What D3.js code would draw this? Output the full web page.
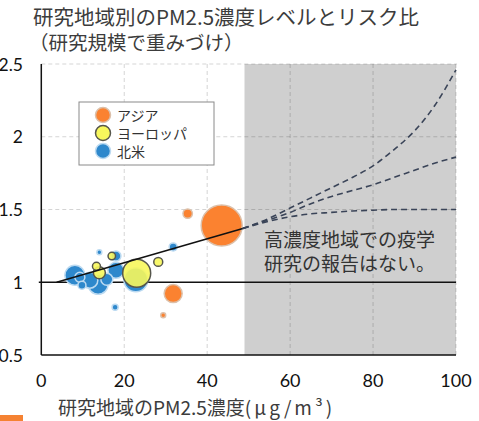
<!DOCTYPE html>
<html>
<head>
<meta charset="utf-8">
<script src="https://cdn.jsdelivr.net/npm/d3@7"></script>
<style>
  html, body { margin: 0; padding: 0; background: #fff; }
  svg { display: block; }
</style>
</head>
<body>
<svg id="chart" width="479" height="421"></svg>
<script>
// Study regions and their bubbles: PM2.5 level, risk ratio, study weight
const regions = ["アジア", "ヨーロッパ", "北米"];
const regionColors = { "アジア": "#FB8230", "ヨーロッパ": "#F7F75C", "北米": "#2E88CC" };
const regionStrokes = { "アジア": "#DCC0AA", "ヨーロッパ": "#56564C", "北米": "#BCDAF1" };

const studyRegion = [
  "北米","北米","北米","北米","北米","北米","北米","北米","北米","北米","北米","北米",
  "ヨーロッパ","ヨーロッパ","ヨーロッパ","ヨーロッパ","ヨーロッパ",
  "アジア","アジア","アジア","アジア"
];
const studyPm25 = [
  22.8, 8.1, 9.3, 9.8, 11.7, 13.7, 15.8, 18.0, 18.0, 14.0, 17.8, 31.8,
  23.0, 28.2, 17.0, 13.3, 14.0,
  43.5, 35.3, 31.8, 29.4
];
const studyRisk = [
  1.017, 1.048, 1.034, 0.98, 1.014, 0.986, 1.02, 1.082, 1.18, 1.206, 0.828, 1.243,
  1.062, 1.14, 1.18, 1.11, 1.065,
  1.39, 1.472, 0.922, 0.773
];
const studyWeight = [
  144, 100, 25, 16, 64, 100, 36, 64, 25, 6, 9, 16,
  196, 20, 14, 16, 36,
  420, 22, 81, 6
];

// Pooled trend within observed range
const trendX = [3.7, 48.6];
const trendY = [1.0, 1.37];

// Extrapolated curves beyond observed range
const extX = [48.6, 55, 60, 65, 70, 75, 80, 85, 90, 95, 100];
const extHigh = [1.37, 1.44, 1.51, 1.58, 1.65, 1.72, 1.80, 1.91, 2.04, 2.22, 2.46];
const extMid  = [1.37, 1.43, 1.48, 1.54, 1.59, 1.63, 1.67, 1.72, 1.77, 1.82, 1.86];
const extLow  = [1.37, 1.42, 1.45, 1.47, 1.48, 1.49, 1.495, 1.50, 1.50, 1.50, 1.50];

const unobservedFrom = 49;

const xTicks = [0, 20, 40, 60, 80, 100];
const yTicks = [0.5, 1, 1.5, 2, 2.5];

const svg = d3.select("#chart");
const x = d3.scaleLinear().domain([0, 100]).range([41.3, 456]);
const y = d3.scaleLinear().domain([0.5, 2.5]).range([355, 64]);
const r = d3.scaleSqrt().domain([0, 420]).range([0, 20.5]);

const cjk = "'Noto Sans CJK JP', 'Noto Sans', sans-serif";
const num = "Lato, 'Open Sans', sans-serif";

// Title
svg.append("text").attr("x", 33).attr("y", 25)
  .attr("font-family", cjk).attr("font-size", 20.5).attr("fill", "#3c3c3c")
  .text("研究地域別のPM2.5濃度レベルとリスク比");
svg.append("text").attr("x", 29).attr("y", 50)
  .attr("font-family", cjk).attr("font-size", 19.5).attr("fill", "#3c3c3c")
  .text("（研究規模で重みづけ）");

// Region with no high-concentration studies
svg.append("rect")
  .attr("x", x(unobservedFrom)).attr("y", y(2.5))
  .attr("width", x(100) - x(unobservedFrom)).attr("height", y(0.5) - y(2.5))
  .attr("fill", "#CFCFCF");

// Gridlines
const grid = svg.append("g").attr("stroke", "rgba(0,0,0,0.17)").attr("stroke-width", 1)
  .attr("stroke-dasharray", "4,3").attr("fill", "none");
grid.selectAll("line.h").data(yTicks.filter(t => t > 1)).join("line")
  .attr("x1", x(0)).attr("x2", x(100) + 1).attr("y1", d => y(d)).attr("y2", d => y(d));
grid.selectAll("line.v").data(xTicks.filter(t => t > 0)).join("line")
  .attr("x1", d => x(d)).attr("x2", d => x(d)).attr("y1", y(2.5)).attr("y2", y(0.5));

// Axes lines
svg.append("line").attr("x1", x(0)).attr("x2", x(0)).attr("y1", y(2.5)).attr("y2", y(0.5))
  .attr("stroke", "#111").attr("stroke-width", 1.5);
svg.append("line").attr("x1", x(0)).attr("x2", x(100)).attr("y1", y(0.5)).attr("y2", y(0.5))
  .attr("stroke", "#111").attr("stroke-width", 1.5);
// Reference line RR = 1
svg.append("line").attr("x1", x(0) - 2.5).attr("x2", x(100)).attr("y1", y(1)).attr("y2", y(1))
  .attr("stroke", "#111").attr("stroke-width", 1.4);

// Tick labels
svg.append("g").selectAll("text").data(yTicks).join("text")
  .attr("x", 23).attr("y", d => y(d) + 6.5).attr("text-anchor", "end")
  .attr("font-family", num).attr("font-size", 17.5).attr("fill", "#111")
  .text(d => d3.format("")(d));
svg.append("g").selectAll("text").data(xTicks).join("text")
  .attr("x", d => x(d)).attr("y", 387).attr("text-anchor", "middle")
  .attr("font-family", num).attr("font-size", 18).attr("fill", "#111")
  .text(d => d);

// Axis title
const xt = svg.append("text").attr("x", 58).attr("y", 415)
  .attr("font-family", cjk).attr("font-size", 19).attr("fill", "#3c3c3c");
xt.append("tspan").text("研究地域のPM2.5濃度");
xt.append("tspan").attr("letter-spacing", 3).text("(μg/m³)");

// Bubbles
const studies = studyPm25.map((v, i) => ({
  region: studyRegion[i], pm: v, rr: studyRisk[i], w: studyWeight[i]
}));
const order = { "北米": 0, "ヨーロッパ": 1, "アジア": 2 };
studies.sort((a, b) => order[a.region] - order[b.region] || b.w - a.w);
svg.append("g").selectAll("circle").data(studies).join("circle")
  .attr("cx", d => x(d.pm)).attr("cy", d => y(d.rr)).attr("r", d => r(d.w))
  .attr("fill", d => regionColors[d.region])
  .attr("fill-opacity", d => d.region === "ヨーロッパ" ? 0.9 : 1)
  .attr("stroke", d => regionStrokes[d.region])
  .attr("stroke-width", 1.5);

// Trend line
const line = d3.line().x(d => x(d[0])).y(d => y(d[1]));
svg.append("path").datum(d3.zip(trendX, trendY)).attr("d", line)
  .attr("fill", "none").attr("stroke", "#111").attr("stroke-width", 1.5);

// Extrapolated dashed curves
const curve = d3.line().x(d => x(d[0])).y(d => y(d[1])).curve(d3.curveMonotoneX);
[extHigh, extMid, extLow].forEach(vals => {
  svg.append("path").datum(d3.zip(extX, vals)).attr("d", curve)
    .attr("fill", "none").attr("stroke", "#3A4458").attr("stroke-width", 1.6)
    .attr("stroke-dasharray", "6,4");
});

// Annotation in shaded region
const note = svg.append("text").attr("font-family", cjk).attr("font-size", 19).attr("fill", "#333");
note.append("tspan").attr("x", 264).attr("y", 247).text("高濃度地域での疫学");
note.append("tspan").attr("x", 264).attr("y", 271).text("研究の報告はない。");

// Legend
const lg = svg.append("g");
lg.append("rect").attr("x", 79).attr("y", 102).attr("width", 135).attr("height", 63)
  .attr("fill", "#fff").attr("stroke", "#8a8a8a").attr("stroke-width", 1);
regions.forEach((reg, i) => {
  const cy = 115 + i * 18;
  lg.append("circle").attr("cx", 103).attr("cy", cy).attr("r", 7.5)
    .attr("fill", regionColors[reg]).attr("stroke", regionStrokes[reg]).attr("stroke-width", 1.5);
  lg.append("text").attr("x", 117).attr("y", cy + 5.5)
    .attr("font-family", cjk).attr("font-size", 14).attr("fill", "#333").text(reg);
});

// Partial orange marker at the lower-left edge
svg.append("rect").attr("x", 0).attr("y", 415).attr("width", 23).attr("height", 6).attr("fill", "#F58232");
</script>
</body>
</html>
